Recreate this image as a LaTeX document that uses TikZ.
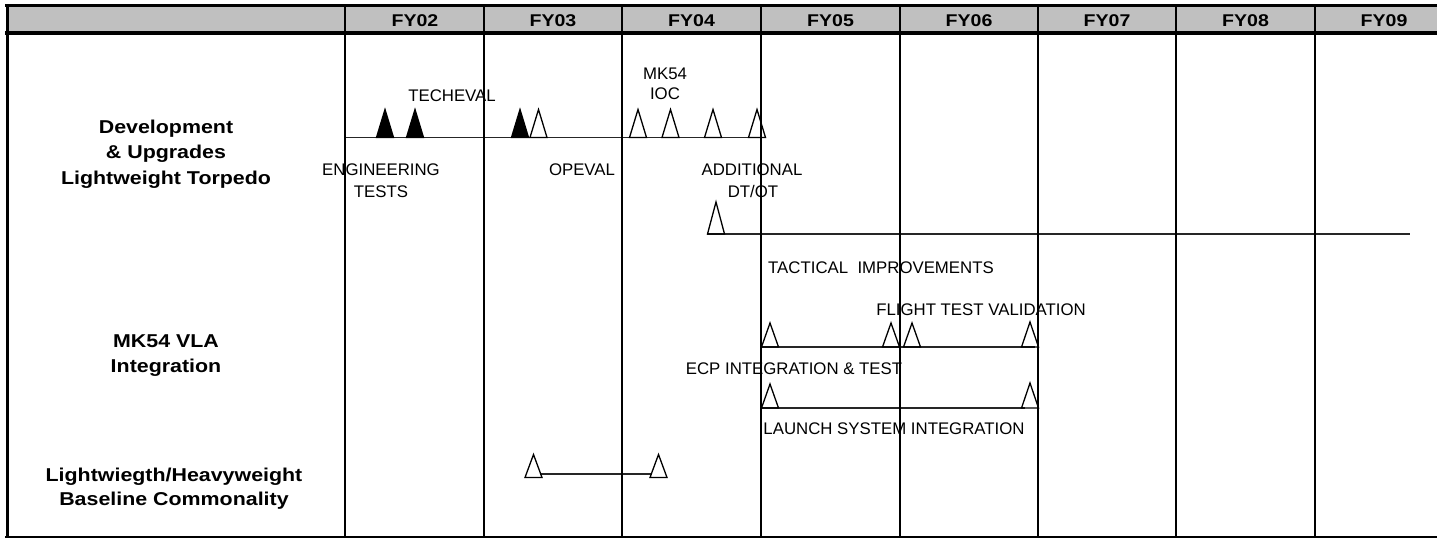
\documentclass[tikz,border=0pt]{standalone}
\usepackage{fontspec}
\setmainfont{Liberation Sans}
\newfontfamily\hfont{Liberation Sans}[FakeStretch=1.15]
\definecolor{hdrgray}{HTML}{C0C0C0}
\tikzset{
  pics/otri/.style={code={\draw[line width=1.3pt, line join=miter] (-8.5,0) -- (0,-#1) -- (8.5,0) -- cycle;}},
  pics/ftri/.style={code={\filldraw[line width=1.3pt, line join=miter] (-8.5,0) -- (0,-#1) -- (8.5,0) -- cycle;}},
  hdr/.style={font=\hfont\bfseries\fontsize{17}{20}\selectfont, anchor=base, inner sep=0pt},
  rowlab/.style={font=\hfont\bfseries\fontsize{18.6}{24}\selectfont, anchor=base, inner sep=0pt},
  lab/.style={font=\fontsize{16.8}{20}\selectfont, anchor=base, inner sep=0pt},
  gridline/.style={line width=2.5pt},
  tl/.style={line width=1.6pt, draw=black!85},
}
\begin{document}
\begin{tikzpicture}[x=1pt,y=-1pt]
\useasboundingbox (0,0) rectangle (1437,538);
% header
\fill[hdrgray] (7,5) rectangle (1437,33);
\node[hdr] (fy02) at (415,27) {FY02};
\node[hdr] (fy03) at (553,27) {FY03};
\node[hdr] (fy04) at (691.5,27) {FY04};
\node[hdr] (fy05) at (830.5,27) {FY05};
\node[hdr] (fy06) at (969,27) {FY06};
\node[hdr] (fy07) at (1107,27) {FY07};
\node[hdr] (fy08) at (1245.5,27) {FY08};
\node[hdr] (fy09) at (1384,27) {FY09};
% row labels
\node[rowlab] (r1a) at (166,133) {Development};
\node[rowlab] (r1b) at (166,158.5) {\& Upgrades};
\node[rowlab] (r1c) at (166,184) {Lightweight Torpedo};
\node[rowlab] (r2a) at (166,347) {MK54 VLA};
\node[rowlab] (r2b) at (166,372) {Integration};
\node[rowlab] (r3a) at (174,481) {Lightwiegth/Heavyweight};
\node[rowlab] (r3b) at (174,505.5) {Baseline Commonality};
% labels
\node[lab] (techeval) at (452,101) {TECHEVAL};
\node[lab] (mk54) at (665,79) {MK54};
\node[lab] (ioc) at (665,99) {IOC};
\node[lab] (eng) at (381,175) {ENGINEERING};
\node[lab] (tests) at (381,197) {TESTS};
\node[lab] (opeval) at (582,175) {OPEVAL};
\node[lab] (addl) at (752,175) {ADDITIONAL};
\node[lab] (dtot) at (753,197) {DT/OT};
\node[lab] (tact) at (881,273) {TACTICAL\ \ IMPROVEMENTS};
\node[lab] (ftv) at (981,315) {FLIGHT TEST VALIDATION};
\node[lab] (ecp) at (794,374) {ECP INTEGRATION \& TEST};
\node[lab] (lsi) at (894,434) {LAUNCH SYSTEM INTEGRATION};
% timelines
\coordinate (a0) at (345,137.5); \coordinate (a1) at (761,137.5);
\draw[tl] (a0) -- (a1);
\pic at (385,137.5) {ftri=28};
\pic at (415,137.5) {ftri=28};
\pic at (520,137.5) {ftri=28};
\pic at (538.5,137.5) {otri=28};
\pic at (638,137.5) {otri=28};
\pic at (670.5,137.5) {otri=28};
\pic at (713,137.5) {otri=28};
\pic at (757,137.5) {otri=28};
\coordinate (b0) at (707,234); \coordinate (b1) at (1410,234);
\draw[tl] (b0) -- (b1);
\pic at (716,234) {otri=32};
\coordinate (c0) at (761,347); \coordinate (c1) at (1035,347);
\draw[tl] (c0) -- (c1);
\pic at (770,347) {otri=24};
\pic at (891,347) {otri=24};
\pic at (912,347) {otri=24};
\pic at (1030,347) {otri=25};
\coordinate (d0) at (761,408); \coordinate (d1) at (1025,408);
\draw[tl] (d0) -- (d1);
\pic at (770,408) {otri=24};
\pic at (1030,408) {otri=25};
\coordinate (e0) at (540,474); \coordinate (e1) at (652,474);
\draw[tl] (e0) -- (e1);
\pic at (533.5,477.5) {otri=23};
\pic at (658.5,477.5) {otri=23};
% frame and grid
\foreach \x in {345,484,622,761,900,1038,1176,1315}
  \draw[gridline] (\x,5) -- (\x,537.5);
\draw[line width=3pt] (5,5.5) -- (1437,5.5);
\draw[line width=4pt] (5,33) -- (1437,33);
\draw[line width=3pt] (7,4) -- (7,538);
\draw[line width=2.5pt] (5,536.8) -- (1437,536.8);
\end{tikzpicture}
\end{document}
